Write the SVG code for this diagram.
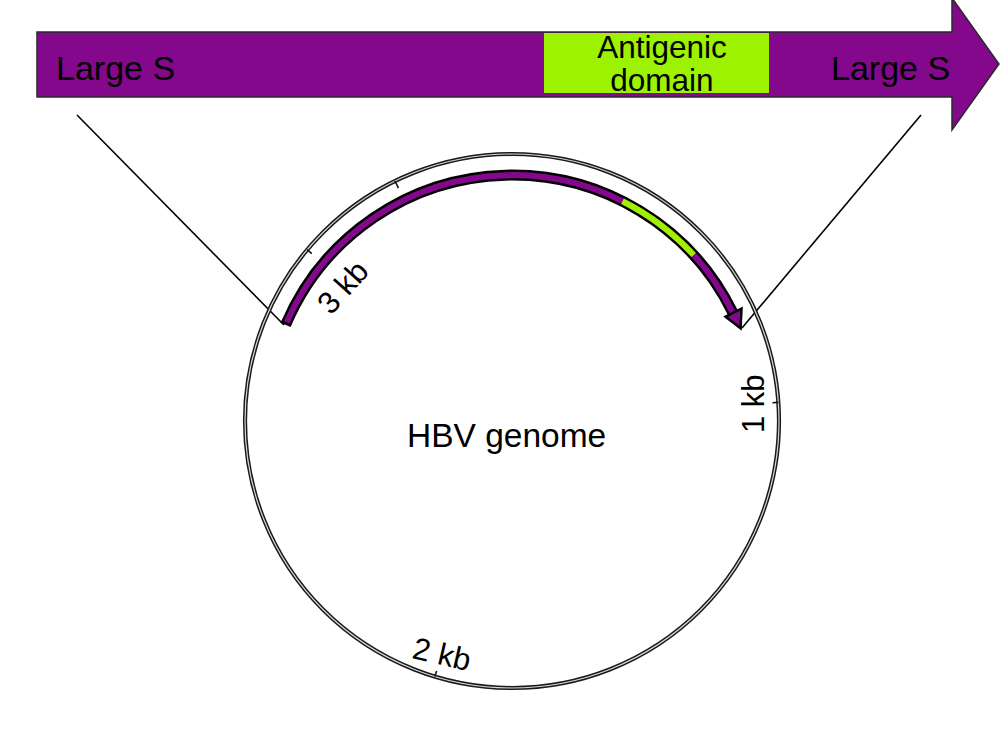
<svg xmlns="http://www.w3.org/2000/svg" width="1000" height="739" viewBox="0 0 1000 739">
<style>
text { font-family: "Liberation Sans", Arial, sans-serif; fill: #000; }
.lbl { font-size: 34px; }
.dom { font-size: 31.5px; text-anchor: middle; }
.kb { font-size: 31px; }
.tick { stroke: #111; stroke-width: 1.6; fill: none; }
.conn { stroke: #000; stroke-width: 1.6; fill: none; }
</style>
<rect width="1000" height="739" fill="#fff"/>
<g id="large-s-arrow">
  <polygon points="37,32 952,32 952,-2 999,64 952,130 952,97 37,97" fill="#83088C" stroke="#2a2a2a" stroke-width="1.5"/>
  <text class="lbl" x="56" y="80">Large S</text>
  <text class="lbl" x="831" y="80">Large S</text>
</g>
<g id="antigenic-domain">
  <rect x="544" y="33" width="225" height="60" fill="#9CF200"/>
  <text class="dom" x="662" y="58">Antigenic</text>
  <text class="dom" x="662" y="91">domain</text>
</g>
<g id="connectors">
  <line class="conn" x1="77" y1="115" x2="284" y2="325"/>
  <line class="conn" x1="921" y1="115" x2="742" y2="328"/>
</g>
<g id="hbv-genome">
  <circle cx="512" cy="421" r="267" fill="none" stroke="#1a1a1a" stroke-width="4.2"/>
  <circle cx="512" cy="421" r="267" fill="none" stroke="#d8d8d8" stroke-width="1.2"/>
  <line class="tick" x1="778.4" y1="402.4" x2="772.4" y2="402.8"/>
  <line class="tick" x1="434.8" y1="676.6" x2="436.6" y2="670.9"/>
  <line class="tick" x1="307.2" y1="249.7" x2="311.8" y2="253.6"/>
  <line class="tick" x1="394.9" y1="181.0" x2="398.5" y2="188.2"/>
  <text x="407" y="447" style="font-size:33.5px">HBV genome</text>
  <text class="kb" transform="translate(764,433) rotate(-90)">1 kb</text>
  <text class="kb" transform="translate(411,658) rotate(13)">2 kb</text>
  <text class="kb" transform="translate(331,316) rotate(-48)">3 kb</text>
</g>
<g id="large-s-gene">
  <path d="M285.6,324.9 A246,246 0 0 1 733.1,313.2" fill="none" stroke="#000" stroke-width="11"/>
  <path d="M286.8,322.2 A246,246 0 0 1 732.7,312.4" fill="none" stroke="#83088C" stroke-width="6"/>
  <path d="M622.5,201.2 A246,246 0 0 1 693.7,255.1" fill="none" stroke="#9CF200" stroke-width="6"/>
  <polygon points="741.5,308.5 725.5,316.8 740.6,328.2" fill="#83088C" stroke="#000" stroke-width="2.5" stroke-linejoin="miter"/>
</g>
</svg>
